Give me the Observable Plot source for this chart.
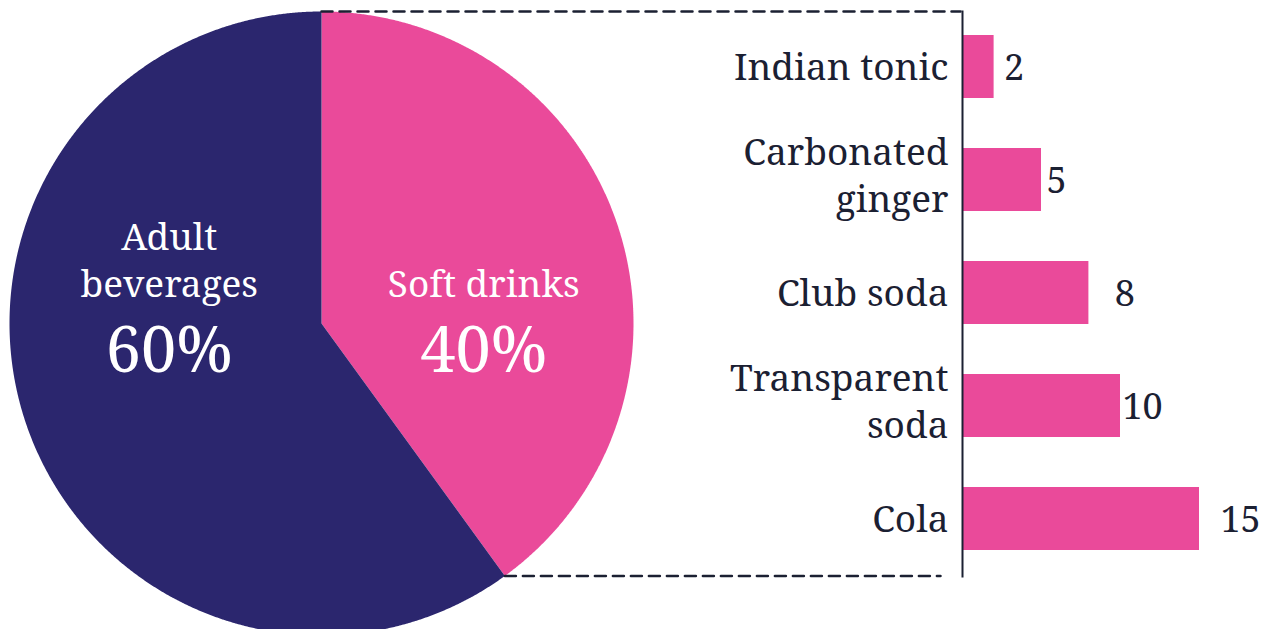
<!DOCTYPE html>
<html><head><meta charset="utf-8">
<script src="https://cdn.jsdelivr.net/npm/d3@7"></script>
<script src="https://cdn.jsdelivr.net/npm/@observablehq/plot@0.6"></script>
<style>
body{margin:0;background:#fff}
#chart{position:relative;width:1274px;height:629px;overflow:hidden}
#chart svg{position:absolute;left:0;top:0}
</style>
</head><body><div id="chart"></div>
<script>
// ---- data ----
const groups = ["Soft drinks", "Adult beverages"];
const groupShares = [40, 60];
const groupLabels = ["Soft drinks", "Adult\nbeverages"];
const drinks = ["Indian tonic", "Carbonated\nginger", "Club soda", "Transparent\nsoda", "Cola"];
const drinkValues = [2, 5, 8, 10, 15];

// ---- layout / style ----
const W = 1274, H = 629;
const PINK = "#EA4A9A", NAVY = "#2B266E", INK = "#1B2032";
const FONT = "'Noto Serif', 'DejaVu Serif', serif";
const cx = 321, cy = 323, R = 312;           // pie placement (px)
const barX0 = 962, pxPerUnit = 15.8;          // bar axis placement (px)
const valueNudge = [20, 15, 36, 22, 41];      // label offsets from bar end (px)

// ---- pie geometry from data ----
const total = d3.sum(groupShares);
let acc = 0;
const slices = groups.map((g, i) => {
  const a0 = acc / total * 2 * Math.PI; acc += groupShares[i];
  const a1 = acc / total * 2 * Math.PI;
  return {group: g, label: groupLabels[i], share: groupShares[i], a0, a1};
});
const piePts = slices.flatMap(s => {
  const n = Math.ceil((s.a1 - s.a0) / (Math.PI / 720));
  const pts = [{group: s.group, x: 0, y: 0}];
  for (let k = 0; k <= n; k++) {
    const a = s.a0 + (s.a1 - s.a0) * k / n;
    pts.push({group: s.group, x: Math.sin(a), y: Math.cos(a)});
  }
  pts.push({group: s.group, x: 0, y: 0});
  return pts;
});
const soft = slices[0];
const connectors = [
  {side: "top", x: Math.sin(soft.a0), y: Math.cos(soft.a0)},
  {side: "top", x: (960 - cx) / R, y: Math.cos(soft.a0)},
  {side: "bottom", x: Math.sin(soft.a1), y: Math.cos(soft.a1)},
  {side: "bottom", x: (940 - cx) / R, y: Math.cos(soft.a1)}
];
const labelX = d => 0.53 * Math.sin((d.a0 + d.a1) / 2);

const pie = Plot.plot({
  width: W, height: H, margin: 0,
  x: {domain: [-cx / R, (W - cx) / R], axis: null},
  y: {domain: [-(H - cy) / R, cy / R], axis: null},
  color: {domain: groups, range: [PINK, NAVY]},
  style: {fontFamily: FONT, background: "transparent"},
  marks: [
    Plot.line(piePts, {x: "x", y: "y", z: "group", fill: "group", stroke: "none"}),
    Plot.line(connectors, {x: "x", y: "y", z: "side", stroke: INK, strokeWidth: 2.5, strokeDasharray: "11,7"}),
    Plot.text(slices, {x: labelX, y: (cy - 296) / R, text: "label", fill: "white", fontSize: 37, dx: 5, lineAnchor: "bottom", lineHeight: 1.27}),
    Plot.text(slices, {x: labelX, y: (cy - 371) / R, text: d => d.share + "%", fill: "white", fontSize: 63, dx: 5, lineAnchor: "bottom"})
  ]
});

// ---- bars ----
const bars = drinks.map((name, i) => ({name, value: drinkValues[i], i}));
const barPlot = Plot.plot({
  width: W, height: H,
  marginLeft: barX0, marginRight: 0, marginTop: 10.5, marginBottom: H - 575.5,
  x: {domain: [0, (W - barX0) / pxPerUnit], axis: null},
  y: {domain: drinks, paddingInner: 0.44, paddingOuter: 0.22, axis: null},
  style: {fontFamily: FONT, background: "transparent", color: INK},
  marks: [
    Plot.barX(bars, {x: "value", y: "name", fill: PINK}),
    Plot.ruleX([0], {stroke: INK, strokeWidth: 2, insetBottom: -2}),
    Plot.text(bars.filter(d => !d.name.includes("\n")), {x: 0, y: "name", text: "name", textAnchor: "end", dx: -14, dy: 1, fontSize: 37, fill: INK}),
    Plot.text(bars.filter(d => d.name.includes("\n")), {x: 0, y: "name", text: "name", textAnchor: "end", dx: -14, dy: -7, fontSize: 37, lineHeight: 1.27, fill: INK}),
    ...bars.map(d => Plot.text([d], {x: "value", y: "name", text: b => String(b.value), textAnchor: "middle", dx: valueNudge[d.i], dy: 1, fontSize: 36, fill: INK}))
  ]
});

const el = document.getElementById("chart");
el.append(pie, barPlot);
</script>
</body></html>
